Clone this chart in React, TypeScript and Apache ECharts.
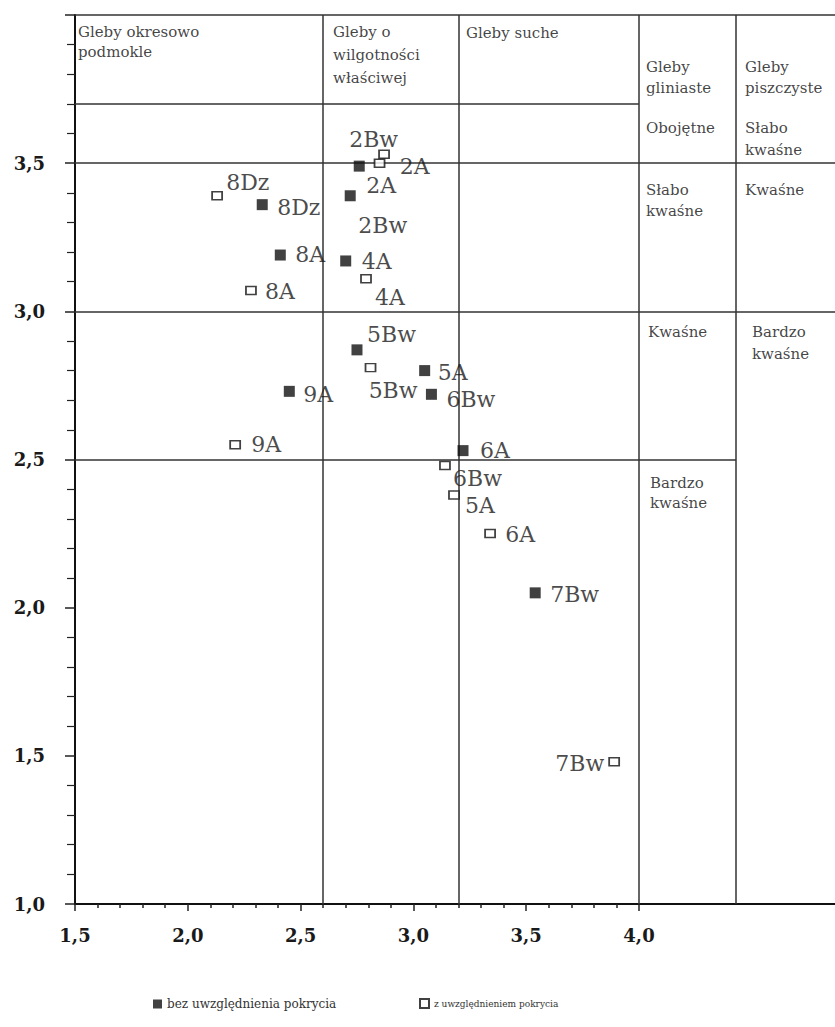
import React, { useEffect, useRef } from 'react';
import * as echarts from 'echarts';

// ---- data ----
const filledNames = ['2A', '2Bw', '8Dz', '8A', '4A', '5Bw', '5A', '6Bw', '9A', '6A', '7Bw'];
const filledX = [2.76, 2.72, 2.33, 2.41, 2.70, 2.75, 3.05, 3.08, 2.45, 3.22, 3.54];
const filledY = [3.49, 3.39, 3.36, 3.19, 3.17, 2.87, 2.80, 2.72, 2.73, 2.53, 2.05];

const hollowNames = ['2A', '2Bw', '8Dz', '8A', '4A', '5Bw', '9A', '6Bw', '5A', '6A', '7Bw'];
const hollowX = [2.85, 2.87, 2.13, 2.28, 2.79, 2.81, 2.21, 3.14, 3.18, 3.34, 3.89];
const hollowY = [3.50, 3.53, 3.39, 3.07, 3.11, 2.81, 2.55, 2.48, 2.38, 2.25, 1.48];

const xTickLabels = [1.5, 2.0, 2.5, 3.0, 3.5, 4.0];
const yTickLabels = [1.0, 1.5, 2.0, 2.5, 3.0, 3.5];

// region boundaries (data units)
const verticalBounds = [2.6, 3.2, 4.0, 4.43];
const horizontalBounds = [
  [3.7, 1.5, 4.0],
  [3.5, 1.5, 4.9],
  [3.0, 1.5, 4.9],
  [2.5, 1.5, 4.43],
  [4.0, 1.5, 4.9],
];

// region captions
const cellTexts = [
  'Gleby okresowo\npodmokle',
  'Gleby o\nwilgotności\nwłaściwej',
  'Gleby suche',
  'Gleby\ngliniaste',
  'Gleby\npiszczyste',
  'Obojętne',
  'Słabo\nkwaśne',
  'Słabo\nkwaśne',
  'Kwaśne',
  'Kwaśne',
  'Bardzo\nkwaśne',
  'Bardzo\nkwaśne',
];
const cellX = [1.513, 2.644, 3.233, 4.031, 4.47, 4.031, 4.47, 4.031, 4.47, 4.04, 4.501, 4.049];
const cellY = [3.978, 3.98, 3.976, 3.861, 3.861, 3.655, 3.655, 3.446, 3.446, 2.966, 2.966, 2.454];

// ---- styling ----
const cellLineHeights = [20, 23, 21, 21, 21, 21, 22, 21, 21, 21, 22, 20];
const filledLabelOffsets = [
  [7, 19], [8, 30], [15, 3], [15, -1], [16, 1], [10, -15], [13, 2], [15, 5], [14, 3], [17, 0], [15, 2],
];
const hollowLabelOffsets = [
  [21, 4], [-34, -14], [10, -13], [15, 2], [10, 19], [-1, 24], [17, 1], [9, 14], [12, 11], [16, 2], [-9, 2],
];

const SERIF = 'DejaVu Serif';
const LINE = '#333';
const comma = (v: number) => v.toFixed(1).replace('.', ',');

export default function App() {
  const ref = useRef<HTMLDivElement>(null);

  useEffect(() => {
    if (!ref.current) return;
    const chart = echarts.init(ref.current, undefined, { renderer: 'svg' });

    const labelBase = {
      show: true,
      formatter: '{b}',
      fontFamily: SERIF,
      fontSize: 22,
      color: '#1a1a1a',
      verticalAlign: 'middle',
    };

    const filledData = filledNames.map((n, i) => ({
      name: n,
      value: [filledX[i], filledY[i]],
      label: {
        position: [5.5 + filledLabelOffsets[i][0], 5.5 + filledLabelOffsets[i][1]],
        align: 'left',
      },
    }));
    const hollowData = hollowNames.map((n, i) => ({
      name: n,
      value: [hollowX[i], hollowY[i]],
      label: {
        position: [5 + hollowLabelOffsets[i][0], 4 + hollowLabelOffsets[i][1]],
        align: n === '7Bw' ? 'right' : 'left',
      },
    }));
    const cellData = cellTexts.map((t, i) => ({
      name: t,
      value: [cellX[i], cellY[i]],
      label: { lineHeight: cellLineHeights[i] },
    }));

    const markLines: any[] = [];
    verticalBounds.forEach((x) => {
      markLines.push([{ coord: [x, 1.0] }, { coord: [x, 4.0] }]);
    });
    horizontalBounds.forEach(([y, x1, x2]) => {
      markLines.push([{ coord: [x1, y] }, { coord: [x2, y] }]);
    });

    const tickFont = {
      fontFamily: SERIF,
      fontWeight: 'bold',
      fontSize: 18,
      color: '#1a1a1a',
    };

    chart.setOption({
      animation: false,
      backgroundColor: '#fff',
      grid: [
        { left: 75, top: 15, width: 767, height: 889, outerBoundsMode: 'none', containLabel: false },
        { left: 75, top: 15, width: 564, height: 889, outerBoundsMode: 'none', containLabel: false },
      ],
      legend: [
        {
          data: [{ name: 'bez uwzględnienia pokrycia', icon: 'rect' }],
          left: 148,
          top: 993,
          itemWidth: 9,
          itemHeight: 9,
          selectedMode: false,
          textStyle: { fontFamily: SERIF, fontSize: 12, color: '#333' },
        },
        {
          data: [{ name: 'z uwzględnieniem pokrycia', icon: 'rect' }],
          left: 414,
          top: 993,
          itemWidth: 9,
          itemHeight: 9,
          selectedMode: false,
          textStyle: { fontFamily: SERIF, fontSize: 9, color: '#333' },
        },
      ],
      xAxis: [
        {
          gridIndex: 0,
          type: 'value',
          min: 1.5,
          max: 4.9,
          position: 'bottom',
          axisLine: { lineStyle: { color: '#111', width: 2 } },
          axisTick: { show: false },
          axisLabel: { show: false },
          splitLine: { show: false },
        },
        {
          gridIndex: 1,
          type: 'value',
          min: 1.5,
          max: 4.0,
          interval: 0.5,
          position: 'bottom',
          axisLine: { show: false },
          axisTick: { show: true, length: 7, lineStyle: { color: '#222', width: 1.5 } },
          minorTick: { show: true, splitNumber: 5, length: 4, lineStyle: { color: '#222', width: 1.5 } },
          axisLabel: {
            customValues: xTickLabels,
            formatter: (v: number) => comma(v),
            margin: 22,
            ...tickFont,
          },
          splitLine: { show: false },
        },
      ],
      yAxis: [
        {
          gridIndex: 0,
          type: 'value',
          min: 1.0,
          max: 4.0,
          interval: 0.5,
          axisLine: { lineStyle: { color: '#111', width: 2 } },
          axisTick: { show: true, length: 10, lineStyle: { color: '#222', width: 1.5 } },
          minorTick: { show: true, splitNumber: 5, length: 8, lineStyle: { color: '#222', width: 1.2 } },
          axisLabel: {
            customValues: yTickLabels,
            formatter: (v: number) => (v > 3.9 ? '' : comma(v)),
            margin: 30,
            ...tickFont,
          },
          splitLine: { show: false },
        },
        {
          gridIndex: 1,
          type: 'value',
          min: 1.0,
          max: 4.0,
          show: false,
        },
      ],
      series: [
        {
          name: 'regions',
          type: 'scatter',
          xAxisIndex: 0,
          yAxisIndex: 0,
          silent: true,
          symbolSize: 0,
          z: 1,
          data: cellData,
          label: {
            show: true,
            formatter: '{b}',
            position: [0, 0],
            align: 'left',
            verticalAlign: 'top',
            fontFamily: SERIF,
            fontSize: 15,
            color: '#111',
          },
          markLine: {
            silent: true,
            symbol: ['none', 'none'],
            label: { show: false },
            lineStyle: { color: LINE, width: 1.5, type: 'solid' },
            data: markLines,
          },
        },
        {
          name: 'bez uwzględnienia pokrycia',
          type: 'scatter',
          xAxisIndex: 0,
          yAxisIndex: 0,
          symbol: 'rect',
          symbolSize: 11,
          z: 5,
          itemStyle: { color: '#111' },
          label: labelBase,
          data: filledData,
        },
        {
          name: 'z uwzględnieniem pokrycia',
          type: 'scatter',
          xAxisIndex: 0,
          yAxisIndex: 0,
          symbol: 'rect',
          symbolSize: [10, 8],
          z: 5,
          itemStyle: { color: '#fff', borderColor: '#111', borderWidth: 1.6 },
          label: labelBase,
          data: hollowData,
        },
      ],
    });

    return () => chart.dispose();
  }, []);

  return (
    <div
      ref={ref}
      style={{ position: 'fixed', left: 0, top: 0, width: 835, height: 1027, background: '#fff' }}
    />
  );
}
